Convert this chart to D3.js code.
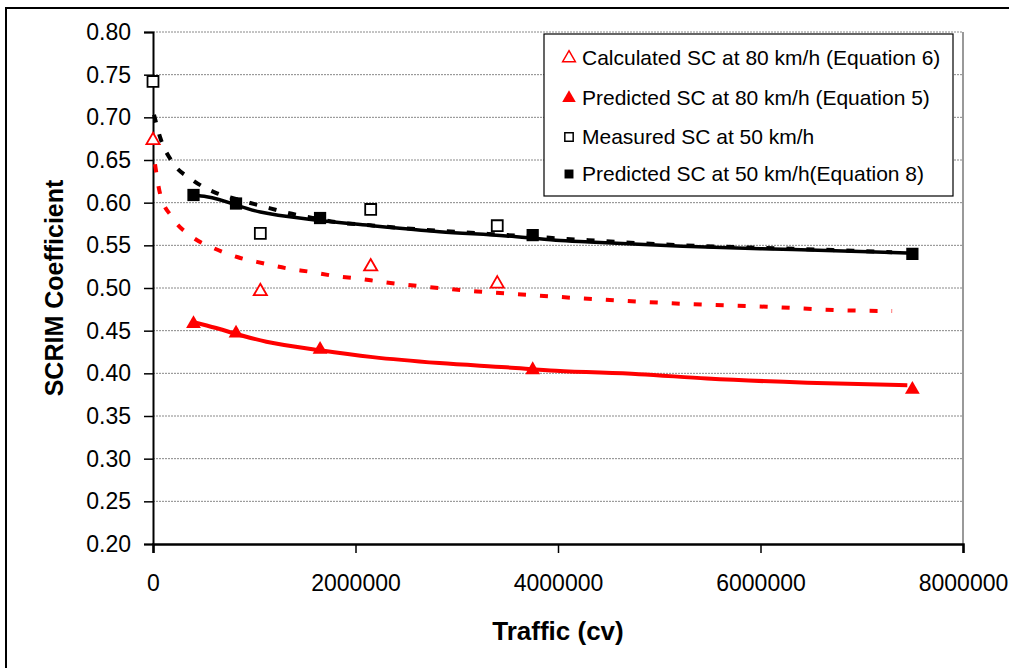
<!DOCTYPE html>
<html>
<head>
<meta charset="utf-8">
<script src="https://cdn.jsdelivr.net/npm/d3@7"></script>
<style>
  body { margin: 0; background: #fff; }
  svg text { font-family: "Liberation Sans", Arial, sans-serif; }
</style>
</head>
<body>
<script>
var width = 1009;
var height = 668;
var margin = {
  left: 153,
  right: 46,
  top: 32,
  bottom: 124,
}

// marker series
var calc80X = [0, 1060000, 2150000, 3400000];
var calc80Y = [0.673, 0.496, 0.525, 0.505];
var pred80X = [400000, 820000, 1650000, 3750000, 7500000];
var pred80Y = [0.458, 0.447, 0.428, 0.404, 0.381];
var meas50X = [0, 1060000, 2150000, 3400000];
var meas50Y = [0.742, 0.564, 0.592, 0.573];
var pred50X = [400000, 820000, 1650000, 3750000, 7500000];
var pred50Y = [0.609, 0.599, 0.582, 0.562, 0.540];

// trend lines
var trendCalc80X = [20000, 69000, 188000, 385000, 593000, 840000, 1086000, 1323000, 1551000, 1798000, 2025000, 2272000, 2489000, 2736000, 3200000, 3694000, 4642000, 5333000, 6064000, 6785000, 7300000];
var trendCalc80Y = [0.645, 0.611, 0.583, 0.560, 0.547, 0.536, 0.529, 0.523, 0.519, 0.514, 0.511, 0.507, 0.504, 0.501, 0.496, 0.492, 0.485, 0.481, 0.478, 0.474, 0.473];
var trendPred80X = [400000, 530000, 1120000, 1650000, 2170000, 2830000, 3490000, 3980000, 4800000, 5470000, 6460000, 7450000];
var trendPred80Y = [0.460, 0.456, 0.437, 0.427, 0.419, 0.412, 0.407, 0.403, 0.399, 0.394, 0.389, 0.386];
var trendMeas50X = [10000, 69000, 188000, 385000, 632000, 859000, 1106000, 1333000, 1580000, 1817000, 2094000, 2830000, 3500000, 4300000, 5230000, 6320000, 7300000];
var trendMeas50Y = [0.703, 0.677, 0.648, 0.627, 0.611, 0.603, 0.595, 0.588, 0.582, 0.577, 0.574, 0.567, 0.562, 0.556, 0.550, 0.546, 0.542];
var trendPred50X = [400000, 530000, 1060000, 1580000, 2170000, 2830000, 3490000, 3980000, 4310000, 5230000, 6320000, 7450000];
var trendPred50Y = [0.609, 0.607, 0.589, 0.580, 0.573, 0.566, 0.561, 0.556, 0.554, 0.549, 0.545, 0.541];

var yTicks = [0.20, 0.25, 0.30, 0.35, 0.40, 0.45, 0.50, 0.55, 0.60, 0.65, 0.70, 0.75, 0.80];
var xTicks = [0, 2000000, 4000000, 6000000, 8000000];

var legendLabels = [
  "Calculated SC at 80 km/h (Equation 6)",
  "Predicted SC at 80 km/h (Equation 5)",
  "Measured SC at 50 km/h",
  "Predicted SC at 50 km/h(Equation 8)"
];

function pairs(xs, ys) {
  return xs.map((x, i) => [x, ys[i]]);
}

function main() {
  var svg = d3.select("body")
    .append("svg")
    .attr("width", width)
    .attr("height", height);

  // outer chart frame
  svg.append("rect")
    .attr("x", 6).attr("y", 8)
    .attr("width", 1100).attr("height", 800)
    .attr("fill", "#fff")
    .attr("stroke", "#000")
    .attr("stroke-width", 2);

  var x = d3.scaleLinear().domain([0, 8000000]).range([margin.left, 963]);
  var y = d3.scaleLinear().domain([0.2, 0.8]).range([height - margin.bottom, margin.top]);

  // gridlines
  svg.append("g").selectAll("line")
    .data(yTicks.slice(1))
    .enter().append("line")
    .attr("x1", x(0)).attr("x2", x(8000000))
    .attr("y1", d => y(d)).attr("y2", d => y(d))
    .attr("stroke", "#888")
    .attr("stroke-width", 1)
    .attr("stroke-dasharray", "2,1");

  // right plot border
  svg.append("line")
    .attr("x1", x(8000000)).attr("x2", x(8000000))
    .attr("y1", y(0.8)).attr("y2", y(0.2))
    .attr("stroke", "#999").attr("stroke-width", 2);

  // axes
  var yAxis = d3.axisLeft(y).tickValues(yTicks).tickFormat(d3.format(".2f")).tickSize(9).tickPadding(13);
  var gy = svg.append("g").attr("transform", "translate(" + x(0) + ",0)").call(yAxis);
  gy.select(".domain").attr("stroke", "#000").attr("stroke-width", 2);
  gy.selectAll(".tick line").attr("stroke", "#000").attr("stroke-width", 1.5);
  gy.selectAll("text").attr("font-size", 23).attr("fill", "#000")
    .attr("font-family", "Liberation Sans, Arial, sans-serif");

  var xAxis = d3.axisBottom(x).tickValues(xTicks).tickFormat(d3.format("d")).tickSize(9).tickPadding(22);
  var gx = svg.append("g").attr("transform", "translate(0," + y(0.2) + ")").call(xAxis);
  gx.select(".domain").attr("stroke", "#000").attr("stroke-width", 2.5);
  gx.selectAll(".tick line").attr("stroke", "#000").attr("stroke-width", 1.5);
  gx.selectAll("text").attr("font-size", 23).attr("fill", "#000")
    .attr("font-family", "Liberation Sans, Arial, sans-serif");

  // axis titles
  svg.append("text")
    .attr("x", (x(0) + x(8000000)) / 2)
    .attr("y", 640)
    .attr("text-anchor", "middle")
    .attr("font-size", 26)
    .attr("font-weight", "bold")
    .text("Traffic (cv)");
  svg.append("text")
    .attr("transform", "translate(63," + ((y(0.2) + y(0.8)) / 2) + ") rotate(-90)")
    .attr("text-anchor", "middle")
    .attr("font-size", 25)
    .attr("font-weight", "bold")
    .text("SCRIM Coefficient");

  var line = d3.line().x(d => x(d[0])).y(d => y(d[1])).curve(d3.curveMonotoneX);

  svg.append("path").datum(pairs(trendCalc80X, trendCalc80Y))
    .attr("d", line).attr("fill", "none")
    .attr("stroke", "#ff0000").attr("stroke-width", 4).attr("stroke-dasharray", "8,14");
  svg.append("path").datum(pairs(trendPred80X, trendPred80Y))
    .attr("d", line).attr("fill", "none")
    .attr("stroke", "#ff0000").attr("stroke-width", 4);
  svg.append("path").datum(pairs(trendMeas50X, trendMeas50Y))
    .attr("d", line).attr("fill", "none")
    .attr("stroke", "#000").attr("stroke-width", 4).attr("stroke-dasharray", "8,12");
  svg.append("path").datum(pairs(trendPred50X, trendPred50Y))
    .attr("d", line).attr("fill", "none")
    .attr("stroke", "#000").attr("stroke-width", 3.5);

  var tri = d3.symbol().type(d3.symbolTriangle);
  var sq = d3.symbol().type(d3.symbolSquare);

  svg.append("g").selectAll("path")
    .data(pairs(calc80X, calc80Y)).enter().append("path")
    .attr("d", tri.size(75))
    .attr("transform", d => "translate(" + x(d[0]) + "," + y(d[1]) + ")")
    .attr("fill", "#fff").attr("stroke", "#ff0000").attr("stroke-width", 1.8);
  svg.append("g").selectAll("path")
    .data(pairs(pred80X, pred80Y)).enter().append("path")
    .attr("d", tri.size(95))
    .attr("transform", d => "translate(" + x(d[0]) + "," + y(d[1]) + ")")
    .attr("fill", "#ff0000");
  svg.append("g").selectAll("path")
    .data(pairs(meas50X, meas50Y)).enter().append("path")
    .attr("d", sq.size(120))
    .attr("transform", d => "translate(" + x(d[0]) + "," + y(d[1]) + ")")
    .attr("fill", "#fff").attr("stroke", "#000").attr("stroke-width", 1.8);
  svg.append("g").selectAll("path")
    .data(pairs(pred50X, pred50Y)).enter().append("path")
    .attr("d", sq.size(150))
    .attr("transform", d => "translate(" + x(d[0]) + "," + y(d[1]) + ")")
    .attr("fill", "#000");

  // legend
  var lg = svg.append("g");
  lg.append("rect")
    .attr("x", 544).attr("y", 34)
    .attr("width", 409).attr("height", 162)
    .attr("fill", "#fff").attr("stroke", "#000").attr("stroke-width", 1.2);
  var rows = [57, 97, 136, 173];
  var markers = [
    { d: tri.size(70)(), fill: "#fff", stroke: "#ff0000" },
    { d: tri.size(80)(), fill: "#ff0000", stroke: "none" },
    { d: sq.size(70)(), fill: "#fff", stroke: "#000" },
    { d: sq.size(80)(), fill: "#000", stroke: "none" }
  ];
  legendLabels.forEach((t, i) => {
    lg.append("path")
      .attr("d", markers[i].d)
      .attr("transform", "translate(569," + (rows[i] + 1) + ")")
      .attr("fill", markers[i].fill)
      .attr("stroke", markers[i].stroke)
      .attr("stroke-width", 1.5);
    lg.append("text")
      .attr("x", 582).attr("y", rows[i] + 7.5)
      .attr("font-size", 21)
      .text(t);
  });
}

window.onload = main
</script>
</body>
</html>
